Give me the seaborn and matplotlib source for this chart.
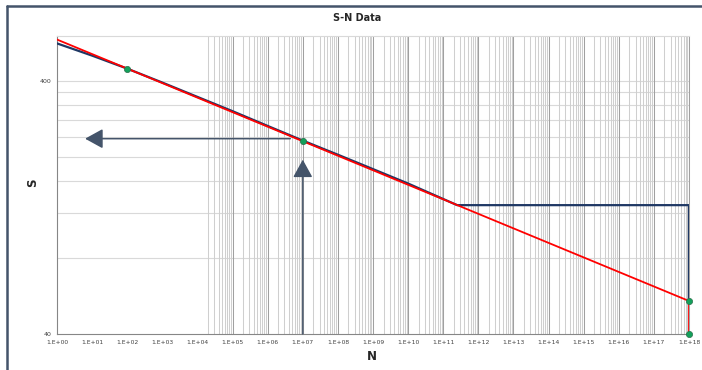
import numpy as np
import pandas as pd
import seaborn as sns
import matplotlib.pyplot as plt
from matplotlib.lines import Line2D

# S-N curve (fitted curve with endurance plateau)
curve_n = [1, 1e1, 1e2, 1e3, 1e4, 1e5, 1e6, 1e7, 1e8, 1e9, 1e10, 2.5e11, 1e18, 1e18]
curve_s = [561, 502, 446, 393, 345, 303, 265, 232, 204, 179, 157, 129, 129, 54]

# Straight-line Basquin fit down to the final cutoff
fit_n = [1, 1e18, 1e18]
fit_s = [581, 54, 40]

# Marked data points
pts_n = [1e2, 1e7, 1e18, 1e18]
pts_s = [446, 232, 54, 40]

# Axis ticks
x_decades = list(range(0, 19))
x_labels = ["1.E+%02d" % k for k in x_decades]
y_ticks = [40, 400]
y_labels = ["40", "400"]
y_minor = [80, 120, 160, 200, 240, 280, 320, 360]

sns.set_theme(style="white")
plt.rcParams["font.family"] = ["DejaVu Sans"]

W, H = 702, 370
fig = plt.figure(figsize=(W / 100, H / 100), dpi=100)
fig.patch.set_facecolor("white")
ax = fig.add_axes([57 / W, (H - 334) / H, (689 - 57) / W, (334 - 36) / H])
ax.set_xscale("log")
ax.set_yscale("log")
ax.set_xlim(1, 1e18)
ax.set_ylim(40, 600)

# Gridlines
for v in y_minor + [400]:
    ax.axhline(v, color="#D9D9D9", lw=0.8, zorder=0)
for k in range(4, 18):
    for m in range(2, 10):
        if m * 10.0 ** k >= 2e4:
            ax.axvline(m * 10.0 ** k, color="#CFCFCF", lw=0.75, zorder=0)
for k in range(5, 19):
    ax.axvline(10.0 ** k, color="#A0A0A0", lw=0.75, zorder=0)

df_curve = pd.DataFrame({"N": curve_n, "S": curve_s})
df_fit = pd.DataFrame({"N": fit_n, "S": fit_s})
df_pts = pd.DataFrame({"N": pts_n, "S": pts_s})

sns.lineplot(data=df_curve, x="N", y="S", sort=False, estimator=None,
             color="#1F3864", lw=1.6, ax=ax, zorder=3)
sns.lineplot(data=df_fit, x="N", y="S", sort=False, estimator=None,
             color="#FF0000", lw=1.3, ax=ax, zorder=4)
sns.scatterplot(data=df_pts, x="N", y="S", color="#13A05B", edgecolor="#2B6E4A",
                linewidth=0.5, s=20, ax=ax, zorder=5, clip_on=False)

# Reading arrows at N = 1E+07
arrow_col = "#44546A"
ax.annotate("", xy=(6.3, 236), xytext=(4.4e6, 236),
            arrowprops=dict(arrowstyle="-|>,head_length=1.0,head_width=0.55",
                            mutation_scale=11, color=arrow_col, lw=1.1,
                            shrinkA=0, shrinkB=0), zorder=6)
ax.annotate("", xy=(1e7, 195), xytext=(1e7, 40),
            arrowprops=dict(arrowstyle="-|>,head_length=1.0,head_width=0.55",
                            mutation_scale=11, color=arrow_col, lw=1.0,
                            shrinkA=0, shrinkB=0), zorder=6)

# Ticks and labels
ax.set_xticks([10.0 ** k for k in x_decades])
ax.set_xticklabels(x_labels, fontsize=4.3, color="#404040")
ax.set_yticks(y_ticks)
ax.set_yticklabels(y_labels, fontsize=4.5, color="#404040")
ax.yaxis.set_minor_locator(plt.NullLocator())
ax.xaxis.set_minor_locator(plt.FixedLocator(
    [m * 10.0 ** k for k in range(0, 18) for m in range(2, 10)]))
ax.tick_params(axis="x", which="major", length=2, width=0.6, color="#868686", pad=2)
ax.tick_params(axis="x", which="minor", length=1.5, width=0.4, color="#A6A6A6",
               direction="in", labelbottom=False)
ax.tick_params(axis="y", which="major", length=2, width=0.6, color="#868686", pad=2)
ax.set_xlabel("")
ax.set_ylabel("")

for side in ["left", "bottom"]:
    ax.spines[side].set_color("#868686")
    ax.spines[side].set_linewidth(0.8)
ax.spines["top"].set_color("#D9D9D9")
ax.spines["top"].set_linewidth(0.8)
ax.spines["right"].set_color("#A0A0A0")
ax.spines["right"].set_linewidth(0.75)

fig.text(357 / W, 1 - 18 / H, "S-N Data", ha="center", va="center",
         fontsize=7, fontweight="bold", color="#262626")
fig.text(372 / W, 1 - 357 / H, "N", ha="center", va="center",
         fontsize=8.5, fontweight="bold", color="#262626")
fig.text(33 / W, 1 - 183 / H, "S", ha="center", va="center", rotation=90,
         fontsize=8.5, fontweight="bold", color="#262626")

# Chart frame
fig.add_artist(Line2D([7 / W, 7 / W], [0, 1 - 6 / H], color="#44546A", lw=1.8))
fig.add_artist(Line2D([7 / W, 1], [1 - 6 / H, 1 - 6 / H], color="#44546A", lw=1.8))

fig.savefig("out.png", dpi=100)
